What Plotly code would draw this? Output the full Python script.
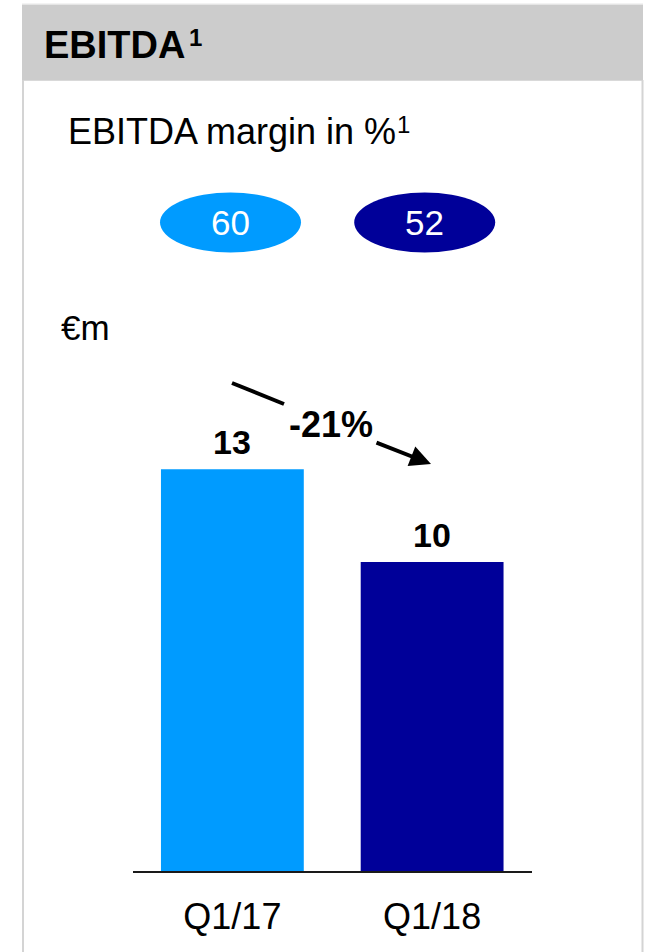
import plotly.graph_objects as go

# ---- data ----
quarters = ["Q1/17", "Q1/18"]
ebitda_m = [13, 10]
margin_pct = [60, 52]
change_label = "-21%"
bar_colors = ["#009BFF", "#000099"]

W, H = 648, 952
FONT = "Liberation Sans, Arial, Helvetica, sans-serif"


def px(x):
    return x / W


def py(y):
    return 1 - y / H


# chart geometry (pixels)
baseline_y = 871
px_per_unit = 30.9
y_max = 15

fig = go.Figure(
    go.Bar(
        x=quarters,
        y=ebitda_m,
        marker=dict(color=bar_colors, line=dict(width=0)),
        width=0.715,
        hoverinfo="skip",
    )
)

shapes = [
    # header band
    dict(type="rect", xref="paper", yref="paper", x0=px(22), x1=px(643),
         y0=py(80.7), y1=py(4.5), fillcolor="#CCCCCC", line=dict(width=0), layer="below"),
    dict(type="line", xref="paper", yref="paper", x0=px(22), x1=px(643),
         y0=py(4), y1=py(4), line=dict(color="#E6E6E6", width=1)),
    # panel borders
    dict(type="line", xref="paper", yref="paper", x0=px(23), x1=px(23),
         y0=py(80), y1=py(H), line=dict(color="#D4D4D4", width=2)),
    dict(type="line", xref="paper", yref="paper", x0=px(642.5), x1=px(642.5),
         y0=py(80), y1=py(H), line=dict(color="#D4D4D4", width=2)),
    # first leg of the change arrow
    dict(type="line", xref="paper", yref="paper", x0=px(232), x1=px(284),
         y0=py(383), y1=py(404), line=dict(color="black", width=4)),
]

# margin ellipses
ell_centers = [230.5, 424.7]
for cx, col in zip(ell_centers, bar_colors):
    shapes.append(dict(type="circle", xref="paper", yref="paper",
                       x0=px(cx - 70.5), x1=px(cx + 70.5),
                       y0=py(252.5), y1=py(192.5),
                       fillcolor=col, line=dict(width=0)))


def text_note(text, x, y, size, anchor="left", bold=False, color="black"):
    return dict(text=f"<b>{text}</b>" if bold else text,
                xref="paper", yref="paper", x=px(x), y=py(y),
                xanchor=anchor, yanchor="middle", showarrow=False,
                font=dict(family=FONT, size=size, color=color))


annotations = [
    text_note("EBITDA", 42, 45, 38, bold=True),
    text_note("1", 187, 38, 24, bold=True),
    text_note("EBITDA margin in %", 66, 132, 36),
    text_note("1", 395, 125, 24),
    text_note("€m", 59, 327, 35),
    text_note(change_label, 331, 425, 36, anchor="center", bold=True),
    # second leg of the change arrow, with head
    dict(text="", xref="paper", yref="paper", x=px(431), y=py(464),
         ax=-56, ay=-22, showarrow=True, arrowhead=2, arrowsize=1.05,
         arrowwidth=4, arrowcolor="black"),
]

for cx, v in zip(ell_centers, margin_pct):
    annotations.append(text_note(str(v), cx, 222, 35, anchor="center", color="white"))

# value labels above the bars
for q, v in zip(quarters, ebitda_m):
    annotations.append(dict(text=f"<b>{v}</b>", xref="x", yref="y", x=q, y=v,
                            xanchor="center", yanchor="bottom", yshift=6,
                            showarrow=False,
                            font=dict(family=FONT, size=34, color="black")))

fig.update_layout(
    width=W, height=H,
    margin=dict(l=0, r=0, t=0, b=0),
    paper_bgcolor="white", plot_bgcolor="white",
    showlegend=False,
    shapes=shapes,
    annotations=annotations,
    xaxis=dict(
        domain=[px(132.5), px(532)],
        range=[-0.5, 1.5],
        showline=True, linecolor="#1A1A1A", linewidth=1.5,
        showgrid=False, zeroline=False, ticks="",
        tickfont=dict(family=FONT, size=36, color="black"),
        ticklabelstandoff=13,
        fixedrange=True,
    ),
    yaxis=dict(
        domain=[py(baseline_y), py(baseline_y - y_max * px_per_unit)],
        range=[0, y_max],
        visible=False, showgrid=False, zeroline=False,
        fixedrange=True,
    ),
)

fig.write_html("out.html", config={"displayModeBar": False})
